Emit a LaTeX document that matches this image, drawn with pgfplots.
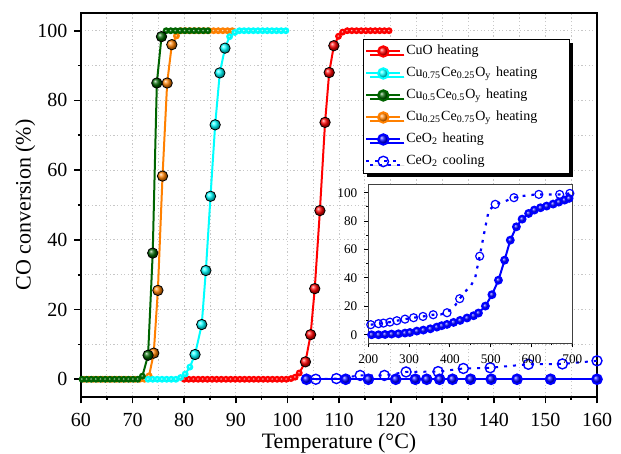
\documentclass[border=0pt]{standalone}
\usepackage{fontspec}
\setmainfont{Liberation Serif}
\usepackage{pgfplots}
\pgfplotsset{compat=1.18}
\usetikzlibrary{shadows}

\definecolor{cgreen}{HTML}{006400}
\definecolor{corange}{HTML}{FF8000}
\definecolor{ccyan}{HTML}{00FFFF}
\definecolor{cblue}{HTML}{0000FF}
\definecolor{cred}{HTML}{FF0000}

\pgfplotsset{
  /pgf/number format/assume math mode=true,
  dense/.style={line width=1pt, mark=ball, mark size=1.2pt},
  bigm/.style={only marks, mark=ball, mark size=2.6pt},
}

\begin{document}
\begin{tikzpicture}
\begin{axis}[
  scale only axis, width=258pt, height=191.7pt,
  xmin=60, xmax=160, ymin=-5, ymax=105,
  xtick={60,70,...,160}, ytick={0,20,...,100},
  minor x tick num=1, minor y tick num=1,
  grid=both,
  major grid style={draw=black!22, dash pattern=on 0.6pt off 1.2pt, line width=0.4pt},
  minor grid style={draw=black!22, dash pattern=on 0.6pt off 1.2pt, line width=0.4pt},
  tick align=outside, tick pos=left,
  major tick length=3.3pt, minor tick length=1.6pt,
  every tick/.style={black, line width=0.9pt},
  axis line style={line width=1pt},
  ticklabel style={font=\fontsize{10}{12}\selectfont},
  xticklabel style={yshift=-1.5pt},
  label style={font=\fontsize{11}{13}\selectfont},
  xlabel={Temperature (°C)}, ylabel={CO conversion (\%)},
  xlabel style={at={(axis description cs:0.5,-0.136)}, anchor=base},
  ylabel style={at={(axis description cs:-0.108,0.5)}, anchor=center},
  clip=false,
  legend style={at={(0.546,0.933)}, anchor=north west, draw=black, line width=0.5pt, fill=white,
    drop shadow={shadow xshift=2pt, shadow yshift=-2pt, fill=black, opacity=1},
    font=\fontsize{7}{8}\selectfont, inner xsep=1pt, inner ysep=0.5pt, row sep=0pt,
    nodes={text width=78pt, text height=5pt, text depth=2pt, inner ysep=2pt, inner xsep=2.5pt}},
  legend cell align=left,
]
% legend entries
\addlegendimage{color=cred, line width=1pt, mark=ball, mark size=2.6pt, mark options={ball color=cred}}
\addlegendimage{color=ccyan, line width=1pt, mark=ball, mark size=2.6pt, mark options={ball color=ccyan}}
\addlegendimage{color=cgreen, line width=1pt, mark=ball, mark size=2.6pt, mark options={ball color=cgreen}}
\addlegendimage{color=corange, line width=1pt, mark=ball, mark size=2.6pt, mark options={ball color=corange}}
\addlegendimage{color=cblue, line width=1pt, mark=ball, mark size=2.6pt, mark options={ball color=cblue}}
\addlegendimage{color=cblue, line width=1pt, dash pattern=on 1.5pt off 3pt, mark=o, mark size=2.6pt, mark options={solid, fill=white, line width=0.7pt}}

% CuO heating
\addplot[forget plot, color=cred, dense, mark options={ball color=cred}] coordinates {
(80.0,0) (80.9,0) (81.8,0) (82.7,0) (83.6,0) (84.5,0) (85.4,0) (86.3,0) (87.2,0) (88.1,0)
(89.0,0) (89.9,0) (90.8,0) (91.7,0) (92.6,0) (93.5,0) (94.4,0) (95.3,0) (96.2,0) (97.1,0)
(98.0,0) (98.9,0) (99.8,0) (100.7,0.2) (101.5,0.6) (102.3,1.8) (103.5,5) (104.5,12.8)
(105.3,26) (106.3,48.4) (107.3,73.7) (108.1,88) (109.0,95.7) (109.9,98.4) (110.7,99.6)
(111.6,100) (112.5,100) (113.4,100) (114.3,100) (115.2,100) (116.1,100) (117.0,100)
(117.9,100) (118.8,100) (119.7,100)};
\addplot[forget plot, bigm, mark options={ball color=cred}] coordinates {
(103.5,5) (104.5,12.8) (105.3,26) (106.3,48.4) (107.3,73.7) (108.1,88) (109.0,95.7)};

% Cu0.25Ce0.75Oy heating
\addplot[forget plot, color=corange, dense, mark options={ball color=corange}] coordinates {
(60.6,0) (61.5,0) (62.4,0) (63.3,0) (64.2,0) (65.1,0) (66.0,0) (66.9,0) (67.8,0) (68.7,0)
(69.6,0) (70.5,0) (71.4,0) (72.3,0) (73.2,1) (74.1,7.5) (74.9,25.5) (75.8,58.3) (76.7,85)
(77.6,96) (78.5,98.5) (79.4,100) (80.3,100) (81.2,100) (82.1,100) (83.0,100) (83.9,100)
(84.8,100) (85.7,100) (86.6,100) (87.5,100) (88.4,100) (89.3,100)};
\addplot[forget plot, bigm, mark options={ball color=corange}] coordinates {
(74.1,7.5) (74.9,25.5) (75.8,58.3) (76.7,85) (77.6,96)};

% Cu0.75Ce0.25Oy heating
\addplot[forget plot, color=ccyan, dense, mark options={ball color=ccyan}] coordinates {
(73.0,0) (73.9,0) (74.8,0) (75.7,0) (76.6,0) (77.5,0) (78.4,0) (79.3,0.5) (80.2,1.5)
(81.1,3.5) (82.1,7.1) (83.4,15.7) (84.2,31.2) (85.1,52.5) (86.0,73) (86.9,87.9) (87.9,95)
(88.8,98.3) (89.8,99.5) (90.7,100) (91.6,100) (92.5,100) (93.4,100) (94.3,100) (95.2,100)
(96.1,100) (97.0,100) (97.9,100) (98.8,100) (99.7,100)};
\addplot[forget plot, bigm, mark options={ball color=ccyan}] coordinates {
(82.1,7.1) (83.4,15.7) (84.2,31.2) (85.1,52.5) (86.0,73) (86.9,87.9) (87.9,95)};

% Cu0.5Ce0.5Oy heating
\addplot[forget plot, color=cgreen, dense, mark options={ball color=cgreen}] coordinates {
(60.2,0) (61.1,0) (62.0,0) (62.9,0) (63.8,0) (64.7,0) (65.6,0) (66.5,0) (67.4,0) (68.3,0)
(69.2,0) (70.1,0) (71.0,0) (71.9,0.9) (73.0,6.9) (73.9,36.2) (74.7,85) (75.6,98.3)
(76.5,100) (77.4,100) (78.3,100) (79.2,100) (80.1,100) (81.0,100) (81.9,100) (82.8,100)
(83.7,100) (84.6,100)};
\addplot[forget plot, bigm, mark options={ball color=cgreen}] coordinates {
(73.0,6.9) (73.9,36.2) (74.7,85) (75.6,98.3)};

% CeO2 cooling
\addplot[forget plot, color=cblue, line width=1pt, dash pattern=on 1.5pt off 3pt,
  mark=o, mark size=2.5pt, mark options={solid, fill=white, line width=0.7pt}] coordinates {
(105.5,0) (109.5,0.2) (114.1,1.1) (118.8,1.1) (123.0,2.1) (129.2,2.2) (134.1,3.1)
(139.3,3.3) (146.7,4.3) (153.3,4.4) (160.0,5.3)};

% CeO2 heating
\addplot[forget plot, color=cblue, line width=1pt, mark=ball, mark size=2.4pt,
  mark options={ball color=cblue}] coordinates {
(103.7,0) (111.3,0) (115.7,0) (121.0,0) (124.8,0) (127.0,0) (129.5,0) (132.0,0)
(135.5,0) (139.5,0) (144.5,0) (151.0,0) (160.0,0)};

\legend{CuO heating,
  Cu\textsubscript{0.75}Ce\textsubscript{0.25}O\textsubscript{y} heating,
  Cu\textsubscript{0.5}Ce\textsubscript{0.5}O\textsubscript{y} heating,
  Cu\textsubscript{0.25}Ce\textsubscript{0.75}O\textsubscript{y} heating,
  CeO\textsubscript{2} heating,
  CeO\textsubscript{2} cooling}

\coordinate (O) at (rel axis cs:0,0);
\coordinate (ins) at (rel axis cs:0.5568,0.1393);
\end{axis}

% inset
\begin{axis}[
  at={(ins)}, anchor=south west,
  scale only axis, width=102pt, height=79.2pt,
  xmin=200, xmax=700, ymin=-6, ymax=105.5,
  xtick={200,300,...,700}, ytick={0,20,...,100},
  minor x tick num=1, minor y tick num=1,
  tick align=outside, tick pos=left,
  major tick length=2pt, minor tick length=1pt,
  every tick/.style={black, line width=0.5pt},
  axis line style={line width=0.5pt, black!75},
  axis background/.style={fill=white},
  ticklabel style={font=\fontsize{6.6}{8}\selectfont},
  clip=false,
]
% cooling line through all points, markers on the measured ones
\addplot[color=cblue, line width=1.1pt, dash pattern=on 1.4pt off 3pt] coordinates {
(206,7.1) (225,7.8) (237,8.2) (253,8.9) (270,9.9) (290,11) (311,12) (334,12.9) (359,14.1)
(377,14.3) (393,15.5) (413,20.7) (424,25.4) (438,30.5) (452,34.8) (462,40.2) (466,45.9)
(473,55.3) (479,64.2) (483,70.1) (487,76) (495,87.3) (511,91.8) (536,94.1) (557,96.5)
(576,97.6) (598,98.4) (618,98.8) (639,98.8) (669,98.8) (694,99.5)};
\addplot[only marks, mark=o, mark size=2pt, mark options={draw=cblue, fill=white, line width=0.6pt}] coordinates {
(206,7.1) (225,7.8) (237,8.2) (253,8.9) (270,9.9) (290,11) (311,12) (334,12.9) (359,14.1)
(393,15.5) (424,25.4) (473,55.3) (511,91.8) (557,96.5) (618,98.8) (669,98.8) (694,99.5)};
\addplot[color=cblue, line width=1pt, mark=ball, mark size=1.7pt, mark options={ball color=cblue}] coordinates {
(208,0) (225,0) (241,0.2) (257,0.5) (274,0.7) (290,1.2) (302,1.6) (319,2.6) (335,3.3)
(352,4.2) (368,5.4) (380,6.4) (393,7.3) (409,8.7) (425,10.1) (442,11.8) (458,13.4)
(470,15.3) (487,20.2) (503,28.2) (519,38.4) (534,52.5) (548,66.6) (563,76) (577,81.4)
(593,85.4) (607,87.8) (622,89.4) (637,90.6) (653,92) (667,93.4) (681,94.8) (692,96)};
\end{axis}

\pgfresetboundingbox
\path (O) ++(-40.5pt,-28.65pt) rectangle ++(310.5pt,227pt);
\end{tikzpicture}
\end{document}
